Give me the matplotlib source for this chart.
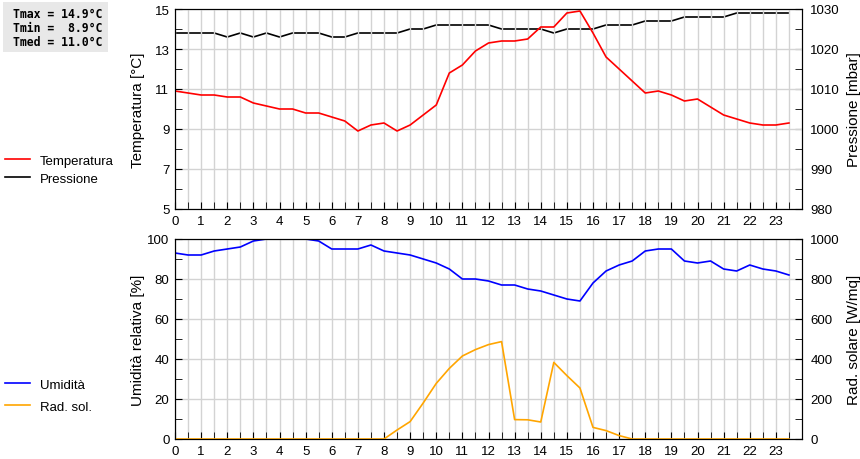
import numpy as np
import matplotlib
matplotlib.use("Agg")
import matplotlib.pyplot as plt
from matplotlib.ticker import MultipleLocator
from matplotlib.patches import Rectangle

plt.rcParams['font.family'] = ['Liberation Sans', 'DejaVu Sans']

# half-hourly readings, 0:00 .. 23:30
hours = np.arange(0, 24, 0.5)

temperatura = [10.9, 10.8, 10.7, 10.7, 10.6, 10.6, 10.3, 10.15, 10.0, 10.0,
               9.8, 9.8, 9.6, 9.4, 8.9, 9.2, 9.3, 8.9, 9.2, 9.7,
               10.2, 11.8, 12.2, 12.9, 13.3, 13.4, 13.4, 13.5, 14.1, 14.1,
               14.8, 14.9, 13.8, 12.6, 12.0, 11.4, 10.8, 10.9, 10.7, 10.4,
               10.5, 10.1, 9.7, 9.5, 9.3, 9.2, 9.2, 9.3]

pressione = [1024, 1024, 1024, 1024, 1023, 1024, 1023, 1024, 1023, 1024,
             1024, 1024, 1023, 1023, 1024, 1024, 1024, 1024, 1025, 1025,
             1026, 1026, 1026, 1026, 1026, 1025, 1025, 1025, 1025, 1024,
             1025, 1025, 1025, 1026, 1026, 1026, 1027, 1027, 1027, 1028,
             1028, 1028, 1028, 1029, 1029, 1029, 1029, 1029]

umidita = [93, 92, 92, 94, 95, 96, 99, 100, 100, 100,
           100, 99, 95, 95, 95, 97, 94, 93, 92, 90,
           88, 85, 80, 80, 79, 77, 77, 75, 74, 72,
           70, 69, 78, 84, 87, 89, 94, 95, 95, 89,
           88, 89, 85, 84, 87, 85, 84, 82]

rad_sol = [0, 0, 0, 0, 0, 0, 0, 0, 0, 0,
           0, 0, 0, 0, 0, 0, 0, 45, 87, 180,
           278, 353, 415, 447, 472, 487, 97, 96, 85, 383,
           317, 255, 58, 42, 17, 0, 0, 0, 0, 0,
           0, 0, 0, 0, 0, 0, 0, 0]

temp_ticks = [5, 7, 9, 11, 13, 15]
umid_ticks = [0, 20, 40, 60, 80, 100]

stats = ["Tmax = 14.9°C", "Tmin =  8.9°C", "Tmed = 11.0°C"]

GRID = '#d3d3d3'
FS = 9.5
LW = 1.2


def style(ax, ylim, ticks, minor):
    ax.set_xlim(0, 24)
    ax.set_ylim(*ylim)
    ax.set_xticks(range(24))
    ax.set_xticks(np.arange(0.5, 24, 1), minor=True)
    ax.set_yticks(ticks)
    ax.yaxis.set_minor_locator(MultipleLocator(minor))
    ax.tick_params(which='both', direction='in', labelsize=FS)
    ax.tick_params(which='major', length=5, pad=4)
    ax.tick_params(which='minor', length=5)
    ax.grid(True, axis='x', which='both', color=GRID, lw=1)
    ax.grid(True, axis='y', which='major', color=GRID, lw=1)
    ax.set_axisbelow(True)


fig = plt.figure(figsize=(8.6, 4.6), dpi=100)
ax1 = fig.add_axes([175 / 860, 1 - 210 / 460, 627 / 860, 200 / 460])
ax2 = fig.add_axes([175 / 860, 1 - 440 / 460, 627 / 860, 200 / 460])

style(ax1, (5, 15), temp_ticks, 1)
style(ax2, (0, 100), umid_ticks, 10)

l_t, = ax1.plot(hours, temperatura, color='red', lw=LW, label='Temperatura')
ax1b = ax1.twinx()
l_p, = ax1b.plot(hours, pressione, color='black', lw=LW, label='Pressione')
ax1b.set_ylim(980, 1030)
ax1b.yaxis.set_major_locator(MultipleLocator(10))
ax1b.yaxis.set_minor_locator(MultipleLocator(5))
ax1b.tick_params(which='both', direction='in', length=5, pad=6, labelsize=FS)
ax1.set_zorder(ax1b.get_zorder() + 1)
ax1.patch.set_visible(False)

l_u, = ax2.plot(hours, umidita, color='blue', lw=LW, label='Umidità')
ax2b = ax2.twinx()
l_r, = ax2b.plot(hours, rad_sol, color='orange', lw=LW, label='Rad. sol.')
ax2b.set_ylim(0, 1000)
ax2b.yaxis.set_major_locator(MultipleLocator(200))
ax2b.yaxis.set_minor_locator(MultipleLocator(100))
ax2b.tick_params(which='both', direction='in', length=5, pad=6, labelsize=FS)

for ax, txt in [(ax1, 'Temperatura [°C]'), (ax2, 'Umidità relativa [%]')]:
    ax.set_ylabel(txt, fontsize=11)
    ax.yaxis.set_label_coords(-0.048, 0.5)
for ax, txt in [(ax1b, 'Pressione [mbar]'), (ax2b, 'Rad. solare [W/mq]')]:
    ax.set_ylabel(txt, fontsize=11)
    ax.yaxis.set_label_coords(1.0715, 0.5)

fig.legend([l_t, l_p], ['Temperatura', 'Pressione'], loc='center left',
           bbox_to_anchor=(5 / 860, 1 - 170.5 / 460), frameon=False,
           fontsize=FS, handlelength=1.9, handletextpad=0.75,
           labelspacing=0.45, borderpad=0, borderaxespad=0)
fig.legend([l_u, l_r], ['Umidità', 'Rad. sol.'], loc='center left',
           bbox_to_anchor=(5 / 860, 1 - 396.5 / 460), frameon=False,
           fontsize=FS, handlelength=1.9, handletextpad=0.75,
           labelspacing=0.75, borderpad=0, borderaxespad=0)

fig.patches.append(Rectangle((3 / 860, 1 - 53 / 460), 105 / 860, 50 / 460,
                             transform=fig.transFigure, fc='#e8e8e8', ec='none'))
for i, line in enumerate(stats):
    fig.text(13 / 860, 1 - (14 + 14 * i) / 460, line, family='DejaVu Sans Mono',
             fontweight='bold', fontsize=8.3, va='center', ha='left')

fig.savefig('out.png', dpi=100)
